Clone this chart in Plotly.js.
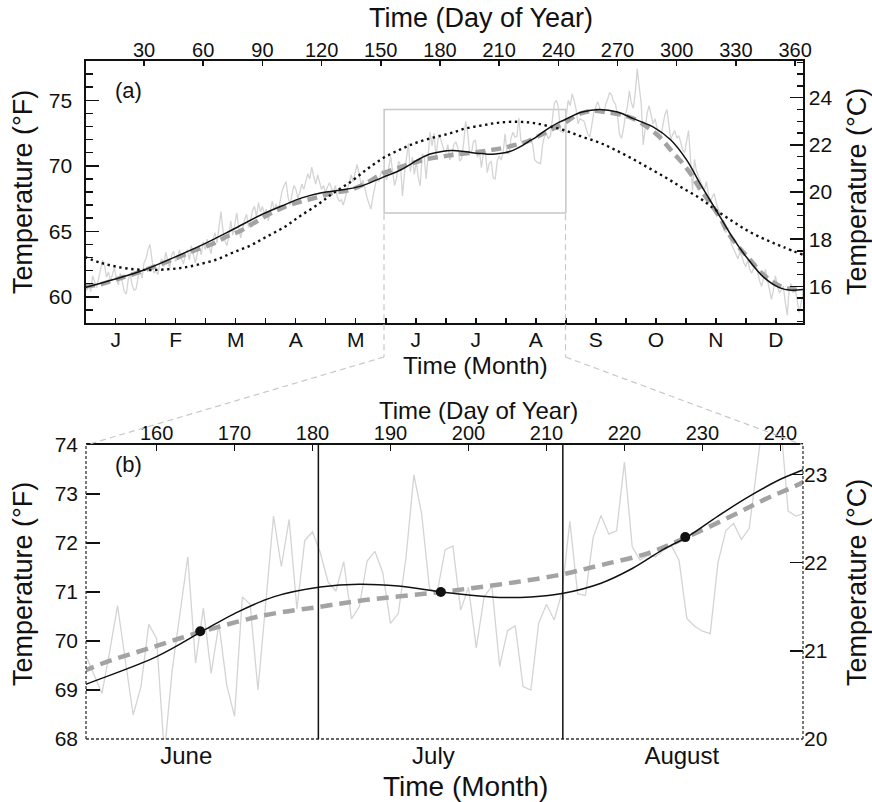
<!DOCTYPE html>
<html>
<head>
<meta charset="utf-8">
<script src="https://cdn.plot.ly/plotly-3.0.1.min.js"></script>
<style>
html, body { margin: 0; padding: 0; background: #ffffff; }
#chart { width: 872px; height: 802px; }
</style>
</head>
<body>
<div id="chart"></div>
<script>
// ---------------- DATA ----------------
// Daily temperature (°F), day of year 0 .. 364
const dailyTempF = [
  // Jan (0-30)
  60.8, 60.5, 61.0, 60.4, 61.6, 61.2, 60.7, 61.4, 62.2, 62.8, 62.4, 61.5, 61.9, 61.2, 61.7, 62.2,
  61.4, 60.9, 61.8, 61.0, 60.4, 60.2, 61.3, 61.8, 60.9, 60.5, 60.6, 61.5, 62.1, 61.4, 62.6,
  // Feb (31-58)
  62.9, 63.6, 64.0, 62.8, 61.8, 62.0, 61.7, 62.5, 62.9, 62.3, 63.4, 62.8, 62.2, 63.2, 63.5, 62.7,
  63.0, 63.6, 62.9, 62.5, 63.3, 63.6, 62.8, 63.9, 63.2, 62.6, 63.3, 63.9,
  // Mar (59-89)
  63.2, 64.2, 63.6, 64.4, 63.8, 63.3, 64.4, 64.9, 64.1, 65.4, 66.5, 65.1, 64.3, 63.9, 64.6, 65.8,
  64.7, 65.5, 66.4, 65.3, 64.5, 65.2, 65.9, 66.3, 65.3, 65.8, 66.6, 66.9, 66.1, 67.2, 66.5,
  // Apr (90-119)
  66.9, 66.3, 66.7, 65.8, 66.5, 67.3, 66.6, 67.1, 66.5, 67.4, 68.1, 68.5, 68.8, 67.6, 67.0, 67.8,
  68.5, 68.2, 67.5, 68.0, 68.6, 68.2, 68.9, 69.4, 69.0, 69.9, 69.2, 68.6, 69.3, 68.7,
  // May (120-150)
  68.2, 68.5, 67.9, 68.4, 68.7, 68.3, 68.0, 68.5, 67.6, 67.3, 67.4, 67.0, 67.6, 68.0, 68.6, 69.3,
  68.8, 69.5, 70.1, 69.4, 68.6, 68.9, 68.2, 67.6, 67.1, 66.7, 67.6, 68.4, 69.1, 68.8, 69.4,
  // Jun (151-180)
  69.68, 69.3, 68.93, 69.8, 70.72, 69.6, 68.49, 69.07, 70.34, 70.05, 67.7, 69.4, 70.6, 71.72, 69.55,
  70.67, 69.34, 70.35, 69.1, 68.46, 70.9, 70.75, 69.0, 70.84, 72.55, 71.52, 72.48, 70.65, 72.05, 72.23,
  // Jul (181-211)
  71.8, 71.2, 71.02, 71.62, 70.45, 70.7, 71.63, 71.83, 71.4, 70.36, 70.56, 71.72, 73.39, 72.59, 71.07,
  71.0, 71.86, 71.94, 70.63, 71.1, 69.86, 70.9, 71.12, 69.48, 70.21, 70.31, 69.07, 69.0, 70.36, 70.75, 70.43,
  // Aug (212-242)
  71.0, 72.44, 70.96, 70.93, 72.12, 72.56, 72.18, 72.25, 73.65, 71.92, 71.65, 71.75, 71.72, 71.85, 71.95,
  71.65, 70.46, 70.3, 70.2, 70.15, 71.6, 72.25, 72.4, 72.07, 72.3, 73.45, 74.8, 75.0, 74.5, 72.65, 72.55,
  // Sep (243-272)
  72.6, 74.0, 75.0, 74.6, 75.5, 75.0, 74.3, 73.2, 73.6, 73.5, 73.4, 72.9, 72.4, 72.2, 73.3, 74.1,
  74.5, 74.9, 74.4, 74.0, 74.0, 74.7, 75.1, 75.6, 75.4, 74.9, 74.7, 73.8, 72.4, 72.1,
  // Oct (273-303)
  72.8, 73.9, 74.5, 75.7, 74.8, 74.4, 75.6, 77.4, 76.0, 74.8, 71.6, 72.9, 74.0, 74.6, 73.8, 73.2,
  73.6, 72.9, 72.5, 72.2, 73.1, 73.9, 74.3, 73.0, 72.0, 72.4, 72.7, 72.1, 72.3, 71.8, 71.2,
  // Nov (304-333)
  71.0, 72.0, 72.7, 70.5, 68.1, 70.5, 69.6, 69.2, 68.9, 68.5, 68.1, 68.8, 67.9, 67.3, 67.6, 67.9,
  67.2, 66.7, 66.4, 65.6, 65.1, 64.9, 65.3, 64.5, 63.9, 63.6, 63.2, 62.9, 63.4, 63.1,
  // Dec (334-364)
  62.6, 62.3, 62.8, 62.1, 61.8, 62.2, 62.6, 61.9, 61.2, 60.8, 61.5, 62.1, 61.3, 60.6, 59.8, 60.5,
  61.6, 60.9, 60.3, 60.5, 60.8, 59.6, 58.6, 60.6, 61.0, 60.3, 60.6, 59.8, 58.8, 59.5, 60.3
];
const dayOfYear = dailyTempF.map((_, i) => i);

// Solid black fitted curve (°F)
const fitDays  = [0, 15, 30, 45, 60, 75, 90, 100, 110, 120, 130, 140, 151, 160, 166, 170, 175, 181, 186,
                  191, 196.5, 200, 204, 208, 212, 217, 221, 225, 228, 232, 236, 240, 243, 252, 261, 270,
                  278, 288, 297, 305, 312, 320, 328, 336, 344, 352, 358, 364];
const fitTempF = [60.7, 61.34, 62.05, 62.99, 64.0, 65.14, 66.3, 66.95, 67.55, 67.95, 68.15, 68.45, 69.12,
                  69.68, 70.21, 70.56, 70.9, 71.1, 71.16, 71.12, 71.0, 70.94, 70.89, 70.9, 70.97, 71.18,
                  71.48, 71.87, 72.12, 72.55, 72.95, 73.3, 73.5, 74.1, 74.3, 74.1, 73.6, 72.97, 71.97,
                  70.45, 68.6, 66.6, 64.6, 62.9, 61.5, 60.7, 60.5, 60.55];

// Thick dashed gray seasonal curve (°F)
const seasonalDays  = [0, 8, 16, 25, 36, 47, 55, 65, 72, 79, 87, 94, 101, 110, 118, 126, 133, 141, 151, 160,
                       166, 174, 181, 187, 196.5, 200, 206, 212, 217, 223, 228, 234, 238, 243, 249, 257, 264,
                       273, 278, 285, 292, 297, 303, 308, 312, 317, 322, 326, 331, 337, 342, 348, 354, 359, 364];
const seasonalTempF = [60.8, 60.96, 61.34, 61.75, 62.35, 62.99, 63.5, 64.05, 64.6, 65.05, 65.75, 66.35, 66.85,
                       67.3, 67.6, 67.95, 68.1, 68.55, 69.41, 69.9, 70.2, 70.53, 70.7, 70.84, 71.0, 71.07, 71.2,
                       71.36, 71.55, 71.79, 72.12, 72.57, 72.89, 73.25, 73.85, 74.2, 74.1, 73.86, 73.6, 72.97,
                       72.09, 71.2, 70.19, 69.18, 68.17, 67.16, 66.02, 64.88, 63.87, 62.86, 61.97, 61.21,
                       60.71, 60.58, 60.45];

// Dotted annual harmonic (°F)
const harmonicDays  = [0, 8, 16, 25, 33, 42, 50, 58, 67, 75, 84, 92, 101, 109, 118, 126, 135, 143, 151, 160,
                       168, 177, 185, 193, 202, 210, 219, 227, 235, 244, 252, 261, 269, 278, 286, 295, 303,
                       312, 320, 329, 337, 346, 354, 364];
const harmonicTempF = [63.04, 62.6, 62.3, 62.1, 62.05, 62.1, 62.23, 62.48, 62.86, 63.37, 63.92, 64.58, 65.31,
                       66.15, 67.03, 67.92, 68.8, 69.74, 70.57, 71.26, 71.76, 72.17, 72.47, 72.85, 73.1, 73.3,
                       73.36, 73.28, 73.03, 72.67, 72.22, 71.76, 71.2, 70.5, 69.82, 69.05, 68.3, 67.5, 66.6,
                       65.7, 64.95, 64.3, 63.8, 63.2];

// Monthly mean points in panel (b)
const monthMidDays = [165.6, 196.45, 227.8];
const monthMeanF   = [70.2, 71.0, 72.12];

// Labels
const monthInitials = ['J', 'F', 'M', 'A', 'M', 'J', 'J', 'A', 'S', 'O', 'N', 'D'];
const summerMonths  = ['June', 'July', 'August'];
const summerLabelDays = [163.8, 195.5, 227.35];
const summerBoundaryDays = [180.75, 212.1];

// ---------------- LAYOUT ----------------
const FONT = 'Liberation Sans, Arial, Helvetica, sans-serif';
const INK = '#111111';
const W = 872, H = 802;
const fx = p => p / W;
const fy = p => 1 - p / H;
const fToC = f => (f - 32) / 1.8;

const plotL = 86, plotR = 803;
const topT = 61, topB = 323;
const botT = 445, botB = 739;

const topDayRange = [0.6, 364.0];
const botDayRange = [150.95, 242.9];
const topRangeF = [58, 78];
const botRangeF = [68, 74];

// month ticks for panel (a): boundaries and mid-months
const monthSpan = 365 / 12, monthOffset = 0.44;
const monthTickVals = [], monthTickText = [];
for (let k = 1; k <= 23; k++) {
  monthTickVals.push(monthOffset + k * monthSpan / 2);
  monthTickText.push(k % 2 === 1 ? monthInitials[(k - 1) / 2] : '');
}

function ax(extra) {
  return Object.assign({
    showgrid: false, zeroline: false, ticks: 'inside', tickcolor: INK, tickwidth: 1.5,
    linecolor: INK, linewidth: 1.6, fixedrange: true,
    tickfont: { family: FONT, size: 21, color: INK }
  }, extra);
}

const traces = [
  { x: dayOfYear, y: dailyTempF, xaxis: 'x', yaxis: 'y', mode: 'lines',
    line: { color: '#d4d4d4', width: 1.3 }, hoverinfo: 'skip' },
  { x: seasonalDays, y: seasonalTempF, xaxis: 'x', yaxis: 'y', mode: 'lines',
    line: { color: '#a3a3a3', width: 4.5, dash: '10px,6px', shape: 'spline' } },
  { x: fitDays, y: fitTempF, xaxis: 'x', yaxis: 'y', mode: 'lines',
    line: { color: INK, width: 1.5, shape: 'spline' } },
  { x: harmonicDays, y: harmonicTempF, xaxis: 'x', yaxis: 'y', mode: 'lines',
    line: { color: INK, width: 2.4, dash: '2.4px,3.6px', shape: 'spline' } },
  { x: [], y: [], xaxis: 'x3', yaxis: 'y3', mode: 'lines' },

  { x: dayOfYear, y: dailyTempF, xaxis: 'x2', yaxis: 'y2', mode: 'lines',
    line: { color: '#d4d4d4', width: 1.3 }, hoverinfo: 'skip' },
  { x: seasonalDays, y: seasonalTempF, xaxis: 'x2', yaxis: 'y2', mode: 'lines',
    line: { color: '#a3a3a3', width: 4.5, dash: '12px,7px', shape: 'spline' } },
  { x: fitDays, y: fitTempF, xaxis: 'x2', yaxis: 'y2', mode: 'lines',
    line: { color: INK, width: 1.5, shape: 'spline' } },
  { x: monthMidDays, y: monthMeanF, xaxis: 'x2', yaxis: 'y2', mode: 'markers',
    marker: { color: INK, size: 10 } },
  { x: [], y: [], xaxis: 'x4', yaxis: 'y4', mode: 'lines' }
];

const connector = { color: '#c8c8c8', width: 1.2, dash: '6px,4px' };
const boxLeftPx = 384, boxRightPx = 565.5, boxBottomPx = 214.3, kneePx = 357;
const shapes = [
  { type: 'rect', xref: 'x', yref: 'y', x0: 151.7, x1: 243.8, y0: 66.4, y1: 74.3,
    line: { color: '#c8c8c8', width: 1.5 }, layer: 'below' },
  { type: 'line', xref: 'paper', yref: 'paper', x0: fx(boxLeftPx), x1: fx(boxLeftPx), y0: fy(boxBottomPx), y1: fy(kneePx), line: connector },
  { type: 'line', xref: 'paper', yref: 'paper', x0: fx(boxLeftPx), x1: fx(plotL), y0: fy(kneePx), y1: fy(botT), line: connector },
  { type: 'line', xref: 'paper', yref: 'paper', x0: fx(boxRightPx), x1: fx(boxRightPx), y0: fy(boxBottomPx), y1: fy(kneePx), line: connector },
  { type: 'line', xref: 'paper', yref: 'paper', x0: fx(boxRightPx), x1: fx(plotR), y0: fy(kneePx), y1: fy(botT), line: connector },
  // dashed frame of panel (b)
  { type: 'line', xref: 'x2 domain', yref: 'y2 domain', x0: 0, x1: 0, y0: 0, y1: 1, line: { color: '#333', width: 1.3, dash: '3px,2px' } },
  { type: 'line', xref: 'x2 domain', yref: 'y2 domain', x0: 1, x1: 1, y0: 0, y1: 1, line: { color: '#333', width: 1.3, dash: '3px,2px' } },
  { type: 'line', xref: 'x2 domain', yref: 'y2 domain', x0: 0, x1: 1, y0: 0, y1: 0, line: { color: '#333', width: 1.3, dash: '3px,2px' } }
];
summerBoundaryDays.forEach(d => shapes.push({
  type: 'line', xref: 'x2', yref: 'y2 domain', x0: d, x1: d, y0: 0, y1: 1, line: { color: INK, width: 1.5 }
}));

function label(text, x, y, size, angle) {
  return { text: text, xref: 'paper', yref: 'paper', x: fx(x), y: fy(y), xanchor: 'center', yanchor: 'middle',
           showarrow: false, textangle: angle || 0, font: { family: FONT, size: size, color: INK } };
}
const annotations = [
  label('Time (Day of Year)', 481, 18, 27),
  label('Time (Month)', 475, 365, 24.5),
  label('Temperature (°F)', 23, 192, 27, -90),
  label('Temperature (°C)', 857, 192, 27, -90),
  label('(a)', 128, 90, 22),
  label('Time (Day of Year)', 478, 410, 24),
  label('Time (Month)', 465, 786, 28),
  label('Temperature (°F)', 23, 584, 27, -90),
  label('Temperature (°C)', 857, 583, 27, -90),
  label('(b)', 128, 464, 22)
];

const layout = {
  width: W, height: H, margin: { l: 0, r: 0, t: 0, b: 0 },
  paper_bgcolor: '#ffffff', plot_bgcolor: '#ffffff', showlegend: false,
  font: { family: FONT, color: INK },
  xaxis: ax({ domain: [fx(plotL), fx(plotR)], anchor: 'y', range: topDayRange,
    tickmode: 'array', tickvals: monthTickVals, ticktext: monthTickText, ticklen: 5,
    showline: true, ticklabelstandoff: -3 }),
  xaxis3: ax({ overlaying: 'x', side: 'top', anchor: 'y', range: topDayRange,
    tickmode: 'linear', tick0: 0, dtick: 30, ticklen: 5, showline: true,
    tickfont: { family: FONT, size: 20, color: INK }, ticklabelstandoff: -6 }),
  yaxis: ax({ domain: [fy(topB), fy(topT)], anchor: 'x', range: topRangeF, tickmode: 'linear',
    tick0: 0, dtick: 5, ticklen: 13, showline: true, ticklabelstandoff: 8,
    minor: { dtick: 1, ticks: 'inside', ticklen: 6.5, tickwidth: 1.5, tickcolor: INK } }),
  yaxis3: ax({ overlaying: 'y', side: 'right', anchor: 'x', range: topRangeF.map(fToC), tickmode: 'linear',
    tick0: 0, dtick: 2, ticklen: 13, showline: true, ticklabelstandoff: 0,
    minor: { dtick: 0.5, ticks: 'inside', ticklen: 6.5, tickwidth: 1.5, tickcolor: INK } }),

  xaxis2: ax({ domain: [fx(plotL), fx(plotR)], anchor: 'y2', range: botDayRange,
    tickmode: 'array', tickvals: summerLabelDays, ticktext: summerMonths, ticks: '',
    showline: false, tickfont: { family: FONT, size: 24, color: INK }, ticklabelstandoff: 0 }),
  xaxis4: ax({ overlaying: 'x2', side: 'top', anchor: 'y2', range: botDayRange,
    tickmode: 'linear', tick0: 0, dtick: 10, ticklen: 6, showline: true,
    tickfont: { family: FONT, size: 20, color: INK }, ticklabelstandoff: -5 }),
  yaxis2: ax({ domain: [fy(botB), fy(botT)], anchor: 'x2', range: botRangeF, tickmode: 'linear',
    tick0: 0, dtick: 1, ticklen: 14, showline: false, ticklabelstandoff: 7 }),
  yaxis4: ax({ overlaying: 'y2', side: 'right', anchor: 'x2', range: botRangeF.map(fToC), tickmode: 'linear',
    tick0: 0, dtick: 1, ticklen: 13, showline: false, ticklabelstandoff: 0 }),

  shapes: shapes,
  annotations: annotations
};

Plotly.newPlot('chart', traces, layout, { displayModeBar: false, staticPlot: true });
</script>
</body>
</html>
